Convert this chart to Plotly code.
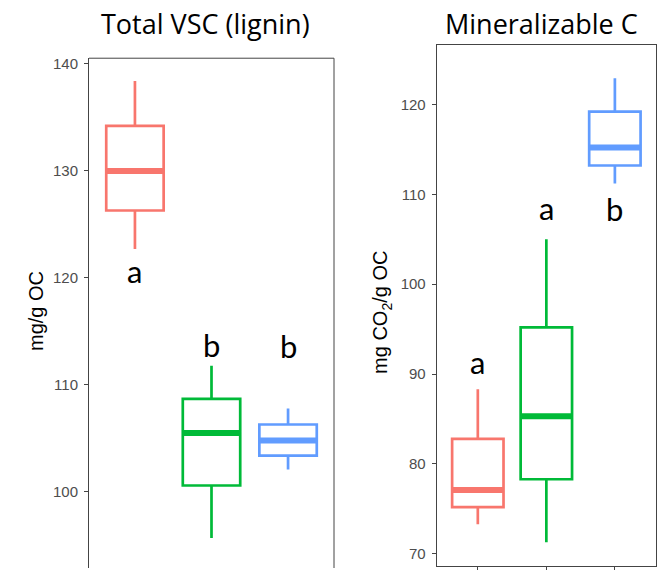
import plotly.graph_objects as go

# ---------------- data ----------------
groups = [1, 2, 3]
colors = ["#F8766D", "#00BA38", "#619CFF"]

# Total VSC (lignin), mg/g OC
vsc_low = [122.7, 95.7, 102.1]
vsc_q1 = [126.3, 100.6, 103.4]
vsc_med = [130.0, 105.5, 104.8]
vsc_q3 = [134.2, 108.7, 106.3]
vsc_high = [138.4, 111.8, 107.8]
vsc_letters = ["a", "b", "b"]
vsc_letter_y = [119.4, 112.5, 112.45]

# Mineralizable C, mg CO2/g OC
min_low = [73.3, 71.3, 111.2]
min_q1 = [75.2, 78.3, 113.2]
min_med = [77.1, 85.3, 115.2]
min_q3 = [82.8, 95.2, 119.2]
min_high = [88.3, 105.0, 122.9]
min_letters = ["a", "a", "b"]
min_letter_y = [89.9, 107.0, 106.95]

vsc_ticks = [100, 110, 120, 130, 140]
min_ticks = [70, 80, 90, 100, 110, 120]

BOXW = 0.75
fig = go.Figure()

def add_panel(low, q1, med, q3, high, xa, ya):
    for g, c, lo, a, m, b, hi in zip(groups, colors, low, q1, med, q3, high):
        fig.add_trace(go.Box(
            x=[g], lowerfence=[lo], q1=[a], median=[m], q3=[b], upperfence=[hi],
            width=BOXW, whiskerwidth=0, line=dict(color=c, width=2.7),
            fillcolor="rgba(0,0,0,0)",
            boxpoints=False, showlegend=False, xaxis=xa, yaxis=ya, hoverinfo="skip"))
        fig.add_trace(go.Scatter(
            x=[g - BOXW / 2, g + BOXW / 2], y=[m, m], mode="lines",
            line=dict(color=c, width=6), showlegend=False, xaxis=xa, yaxis=ya,
            hoverinfo="skip"))

add_panel(vsc_low, vsc_q1, vsc_med, vsc_q3, vsc_high, "x", "y")
add_panel(min_low, min_q1, min_med, min_q3, min_high, "x2", "y2")

LETTER_FONT = dict(family="Lato", size=31, color="black")
for g, t, yv in zip(groups, vsc_letters, vsc_letter_y):
    fig.add_annotation(x=g, y=yv, xref="x", yref="y", text=t, showarrow=False,
                       yanchor="bottom", yshift=-8, font=LETTER_FONT)
for g, t, yv in zip(groups, min_letters, min_letter_y):
    fig.add_annotation(x=g, y=yv, xref="x2", yref="y2", text=t, showarrow=False,
                       yanchor="bottom", yshift=-8, font=LETTER_FONT)

TITLE_FONT = dict(family="Open Sans", size=27, color="black")
fig.add_annotation(x=205 / 669, y=1 - 21 / 570, xref="paper", yref="paper",
                   text="Total VSC (lignin)", showarrow=False, font=TITLE_FONT,
                   xanchor="center", yanchor="middle")
fig.add_annotation(x=541 / 669, y=1 - 21 / 570, xref="paper", yref="paper",
                   text="Mineralizable C", showarrow=False, font=TITLE_FONT,
                   xanchor="center", yanchor="middle")

AXT_FONT = dict(family="Arial", size=20, color="black")
fig.add_annotation(x=36.7 / 669, y=1 - 311 / 570, xref="paper", yref="paper",
                   text="mg/g OC", textangle=-90, showarrow=False, font=AXT_FONT,
                   xanchor="center", yanchor="middle")
fig.add_annotation(x=381.7 / 669, y=1 - 312 / 570, xref="paper", yref="paper",
                   text="mg CO<sub>2</sub>/g OC", textangle=-90, showarrow=False,
                   font=AXT_FONT, xanchor="center", yanchor="middle")

LINE = "#444444"
TICKF = dict(family="Arial", size=15, color="#4D4D4D")

fig.update_layout(
    width=669, height=570, margin=dict(l=0, r=0, t=0, b=0),
    paper_bgcolor="white", plot_bgcolor="white",
    xaxis=dict(domain=[89 / 669, 334 / 669], range=[0.4, 3.6], anchor="y",
               showticklabels=False, ticks="", showline=False, showgrid=False,
               zeroline=False),
    yaxis=dict(domain=[0, 1 - 55.7 / 570], range=[92.89, 140.53], anchor="x",
               tickvals=vsc_ticks, ticks="outside", ticklen=4, tickcolor=LINE,
               showline=True, linecolor=LINE, linewidth=1, showgrid=False,
               zeroline=False, tickfont=TICKF, ticklabelstandoff=3),
    xaxis2=dict(domain=[436.7 / 669, 656 / 669], range=[0.4, 3.6], anchor="y2",
                tickvals=groups, showticklabels=False, ticks="outside", ticklen=4,
                tickcolor=LINE, showline=True, mirror=True, linecolor=LINE,
                linewidth=1, showgrid=False, zeroline=False),
    yaxis2=dict(domain=[1 - 567.7 / 570, 1 - 42.7 / 570], range=[68.68, 126.57],
                anchor="x2", tickvals=min_ticks, ticks="outside", ticklen=4,
                tickcolor=LINE, showline=True, mirror=True, linecolor=LINE,
                linewidth=1, showgrid=False, zeroline=False, tickfont=TICKF,
                ticklabelstandoff=3),
)

# left panel frame (top and right edges; bottom is cropped)
fig.add_shape(type="line", xref="x domain", yref="y domain", x0=0, x1=1, y0=1, y1=1,
              line=dict(color=LINE, width=1))
fig.add_shape(type="line", xref="x domain", yref="y domain", x0=1, x1=1, y0=0, y1=1,
              line=dict(color=LINE, width=1))

fig.write_html("out.html")
